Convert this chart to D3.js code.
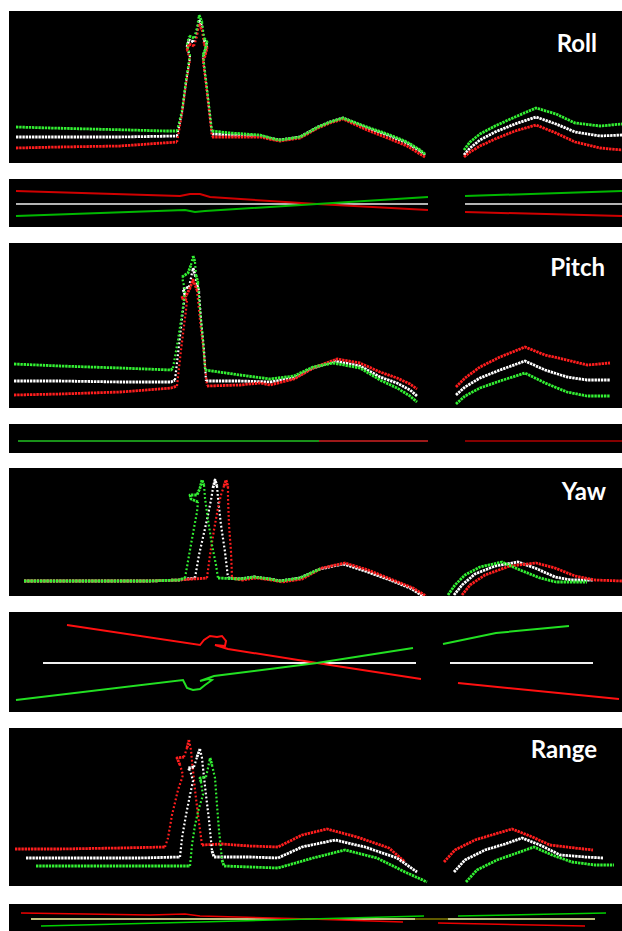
<!DOCTYPE html>
<html><head><meta charset="utf-8">
<script src="https://cdn.jsdelivr.net/npm/d3@7/dist/d3.min.js"></script>
<style>html,body{margin:0;padding:0;background:#fff;}svg{display:block;}</style>
</head><body>
<script>
// ---------- DATA (x: scan position, y: height above panel floor) ----------
// Roll profile
const rollWhiteL = [[7,26],[51,26],[111,26],[168,27],[173,51],[177,81],[181,106],[178,116],[180,123],[185,121],[188,131],[190,143],[193,137],[195,123],[198,118],[196,111],[194,105],[197,81],[200,55],[203,29],[221,28],[251,27],[265,24],[271,23],[291,26],[309,36],[321,41],[334,45],[358,35],[381,27],[398,20],[411,12],[416,8]];
const rollWhiteR = [[455,8],[461,15],[471,23],[486,31],[506,39],[527,46],[547,39],[566,31],[591,27],[613,28]];
const rollRedL = [[7,15],[51,16],[111,17],[168,21],[173,49],[177,79],[181,103],[178,113],[180,119],[185,117],[188,127],[190,139],[193,133],[195,119],[198,115],[196,107],[194,102],[197,78],[200,52],[203,26],[221,26],[251,26],[265,23],[271,22],[291,25],[309,35],[321,40],[334,44],[358,33],[381,24],[398,17],[411,9],[416,6]];
const rollRedR = [[455,6],[461,11],[471,17],[486,24],[506,32],[527,38],[547,30],[566,21],[591,15],[613,13]];
const rollGreenL = [[7,36],[41,35],[81,34],[121,33],[156,32],[168,32],[173,53],[177,83],[181,108],[178,118],[180,127],[185,125],[188,135],[190,148],[193,141],[195,125],[198,121],[196,113],[194,108],[197,83],[200,58],[203,32],[221,30],[251,28],[265,24],[271,23],[291,26],[309,36],[321,41],[334,45],[358,36],[381,28],[398,21],[411,13],[416,9]];
const rollGreenR = [[455,13],[461,21],[471,29],[486,37],[506,46],[527,55],[547,49],[566,40],[591,37],[613,39]];
// Roll top view
const rollTopWhiteL = [[7,23],[419,23]];
const rollTopWhiteR = [[456,23],[613,23]];
const rollTopRedL = [[7,36],[171,31],[181,33],[191,33],[201,30],[308,23],[419,17]];
const rollTopRedR = [[456,15],[613,11]];
const rollTopGreenL = [[7,11],[176,17],[186,15],[196,16],[308,23],[419,30]];
const rollTopGreenR = [[456,31],[613,36]];
// Pitch profile
const pitchWhiteL = [[5,27],[51,27],[111,26],[162,26],[166,28],[170,63],[174,98],[176,113],[174,119],[180,121],[182,130],[184,140],[186,133],[188,123],[190,116],[192,88],[195,58],[197,27],[231,27],[261,26],[285,30],[304,40],[326,47],[351,42],[371,31],[388,25],[401,18],[408,12]];
const pitchWhiteR = [[447,13],[456,21],[471,30],[491,38],[516,47],[536,38],[558,31],[578,28],[601,28]];
const pitchRedL = [[5,13],[51,14],[111,16],[162,20],[168,22],[172,58],[177,98],[178,108],[172,110],[177,112],[181,120],[184,128],[186,123],[188,118],[191,88],[195,53],[198,22],[231,23],[251,25],[261,23],[285,29],[304,40],[328,49],[351,45],[371,36],[388,30],[401,24],[408,19]];
const pitchRedR = [[447,21],[456,30],[471,41],[491,51],[516,61],[536,53],[558,48],[578,43],[601,45]];
const pitchGreenL = [[5,44],[51,42],[111,40],[162,38],[164,40],[169,68],[174,101],[176,118],[173,131],[179,135],[182,143],[184,152],[186,146],[187,133],[189,125],[191,98],[194,68],[196,38],[231,33],[261,29],[285,32],[304,41],[324,45],[351,40],[371,28],[388,20],[401,12],[408,6]];
const pitchGreenR = [[447,4],[456,12],[471,20],[491,27],[516,35],[536,25],[558,16],[578,12],[601,12]];
// Pitch top view
const pitchTopWhite = [[9,12],[419,12]];
const pitchTopGreen = [[9,12],[310,12]];
const pitchTopRedL = [[310,12],[419,12]];
const pitchTopRedR = [[456,12],[613,12]];
// Yaw profile
const yawGroundL = [[15,15],[71,15],[141,15],[170,16]];
const yawGroundR = [[231,17],[245,19],[261,17],[271,15],[291,18],[311,27],[334,32],[356,25],[381,16],[401,8],[414,0]];
const yawRedGroundR = [[233,16],[247,18],[263,16],[273,14],[293,17],[313,28],[336,33],[359,26],[384,16],[404,8],[417,0]];
const yawGreenSpike = [[176,18],[181,46],[185,68],[188,84],[189,94],[182,97],[181,101],[188,101],[191,108],[193,116],[195,111],[196,98],[199,76],[203,51],[207,31],[209,18]];
const yawWhiteSpike = [[186,18],[190,41],[195,63],[199,81],[202,96],[204,108],[206,116],[208,110],[209,98],[212,71],[216,44],[219,18]];
const yawRedSpike = [[198,18],[201,41],[205,66],[209,88],[212,101],[215,110],[217,116],[219,109],[219,98],[220,71],[222,44],[223,18]];
const yawGreenR = [[439,1],[446,11],[456,21],[471,29],[493,34],[511,26],[531,18],[547,14],[578,14]];
const yawWhiteR = [[445,1],[453,11],[466,22],[486,30],[509,34],[526,28],[546,19],[562,16],[584,16]];
const yawRedR = [[453,1],[461,11],[476,21],[501,30],[527,33],[546,28],[566,20],[586,16],[613,15]];
// Yaw top view
const yawTopWhiteL = [[34,49],[407,49]];
const yawTopWhiteR = [[441,49],[584,49]];
const yawTopRedL = [[58,87],[191,67],[195,72],[201,76],[208,75],[213,76],[217,71],[216,66],[206,67],[219,63],[308,49],[412,33]];
const yawTopRedR = [[449,29],[610,13]];
const yawTopGreenL = [[7,12],[174,32],[178,24],[184,22],[191,23],[196,27],[203,32],[199,33],[191,31],[205,36],[308,49],[404,64]];
const yawTopGreenR = [[434,68],[487,79],[560,86]];
// Range profile
const rangeRedL = [[6,37],[51,37],[111,38],[156,39],[159,48],[163,71],[169,96],[174,111],[171,121],[168,128],[175,129],[178,138],[180,146],[182,136],[183,125],[186,96],[189,71],[193,41],[213,42],[241,40],[269,39],[293,51],[318,57],[348,49],[380,38],[396,24]];
const rangeRedR = [[435,24],[446,36],[466,46],[486,52],[503,57],[521,50],[541,41],[566,38],[584,36]];
const rangeWhiteL = [[17,28],[71,28],[131,28],[171,29],[173,48],[177,71],[181,91],[184,105],[181,116],[179,118],[185,119],[188,129],[191,137],[193,128],[194,118],[197,91],[200,66],[203,35],[205,29],[241,29],[269,28],[293,39],[326,46],[356,39],[388,28],[408,14]];
const rangeWhiteR = [[445,14],[456,26],[476,36],[496,42],[513,48],[531,41],[551,31],[576,29],[594,28]];
const rangeGreenL = [[27,20],[81,20],[141,20],[181,20],[183,41],[186,61],[190,78],[194,91],[192,104],[191,108],[197,109],[199,118],[201,128],[203,121],[206,108],[208,81],[210,56],[213,26],[215,20],[241,19],[269,18],[304,28],[336,36],[368,28],[396,14],[418,4]];
const rangeGreenR = [[457,4],[468,16],[488,26],[508,33],[525,39],[543,31],[563,24],[586,21],[605,21]];
// Range top view
const rangeTopYellowL = [[22,12],[406,12]];
const rangeTopYellowGap = [[406,12],[439,12]];
const rangeTopYellowR = [[439,12],[586,12]];
const rangeTopRedL = [[12,18],[141,16],[176,17],[191,15],[301,12],[394,9]];
const rangeTopRedR = [[429,8],[576,5]];
const rangeTopGreenL = [[32,5],[191,9],[301,12],[415,15]];
const rangeTopGreenR = [[449,15],[597,18]];

const labels = ["Roll","Pitch","Yaw","Range"];

// ---------- LAYOUT ----------
const W = 622, H = 931;
const C = {white:"#ffffff", red:"#ff1e1e", green:"#33f033"};
const panels = [
  {top:11,  bottom:163, label:0, lx:597, ly:52, kind:"profile",
   series:[[rollWhiteL,C.white],[rollWhiteR,C.white],[rollRedL,C.red],[rollRedR,C.red],[rollGreenL,C.green],[rollGreenR,C.green]]},
  {top:179, bottom:227, kind:"top", w:2,
   series:[[rollTopWhiteL,"#b4b4b4"],[rollTopWhiteR,"#b4b4b4"],[rollTopRedL,"#d00000"],[rollTopRedR,"#d00000"],[rollTopGreenL,"#00b800"],[rollTopGreenR,"#00b800"]]},
  {top:243, bottom:408, label:1, lx:605, ly:276, kind:"profile",
   series:[[pitchWhiteL,C.white],[pitchWhiteR,C.white],[pitchRedL,C.red],[pitchRedR,C.red],[pitchGreenL,C.green],[pitchGreenR,C.green]]},
  {top:424, bottom:453, kind:"top", w:1.4,
   series:[[pitchTopWhite,"#888"],[pitchTopGreen,"#00a000"],[pitchTopRedL,"#b00000"],[pitchTopRedR,"#b00000"]]},
  {top:468, bottom:596, label:2, lx:606, ly:500, kind:"profile",
   series:[[yawGroundL.concat(yawWhiteSpike, yawGroundR),C.white],[yawWhiteR,C.white],
           [yawGroundL.concat(yawRedSpike, yawRedGroundR),C.red],[yawRedR,C.red],
           [yawGroundL.concat(yawGreenSpike, yawGroundR.slice(0,6)),C.green],[yawGreenR,C.green]]},
  {top:612, bottom:712, kind:"top", w:2,
   series:[[yawTopWhiteL,"#f0f0f0"],[yawTopWhiteR,"#f0f0f0"],[yawTopRedL,"#ff1010"],[yawTopRedR,"#ff1010"],[yawTopGreenL,"#22e022"],[yawTopGreenR,"#22e022"]]},
  {top:728, bottom:886, label:3, lx:597, ly:758, kind:"profile",
   series:[[rangeRedL,C.red],[rangeRedR,C.red],[rangeWhiteL,C.white],[rangeWhiteR,C.white],[rangeGreenL,C.green],[rangeGreenR,C.green]]},
  {top:904, bottom:931, kind:"top", w:1.5,
   series:[[rangeTopYellowL,"#ffffa8"],[rangeTopYellowGap,"#807a00"],[rangeTopYellowR,"#ffffa8"],[rangeTopRedL,"#ee0000"],[rangeTopRedR,"#ee0000"],[rangeTopGreenL,"#00d000"],[rangeTopGreenR,"#00d000"]]}
];

const svg = d3.select("body").append("svg").attr("width", W).attr("height", H);
const x = d3.scaleLinear().domain([0, 613]).range([9, 622]);

// split a profile into runs of steep (sparse scan) and flat (dense scan) segments
function runs(pts) {
  const out = []; let cur = null;
  for (let k = 1; k < pts.length; k++) {
    const a = pts[k - 1], b = pts[k];
    const dy = Math.abs(b[1] - a[1]), dx = Math.abs(b[0] - a[0]);
    const steep = dy > 2.5 * dx && dy > 8;
    if (!cur || cur.steep !== steep) { cur = {steep, pts: [a]}; out.push(cur); }
    cur.pts.push(b);
  }
  return out;
}

panels.forEach((p, i) => {
  const y = d3.scaleLinear().domain([0, p.bottom - p.top]).range([p.bottom, p.top]);
  const g = svg.append("g");
  g.append("clipPath").attr("id", "c" + i).append("rect")
    .attr("x", x(0)).attr("y", p.top).attr("width", x(613) - x(0)).attr("height", p.bottom - p.top);
  g.append("rect").attr("x", x(0)).attr("y", p.top)
    .attr("width", x(613) - x(0)).attr("height", p.bottom - p.top).attr("fill", "#000");
  const line = d3.line().x(d => x(d[0])).y(d => y(d[1]));
  const lg = g.append("g").attr("clip-path", `url(#c${i})`);
  p.series.forEach(([pts, col]) => {
    if (p.kind === "profile") {
      runs(pts).forEach(r => {
        lg.append("path").attr("d", line(r.pts)).attr("fill", "none").attr("stroke", col)
          .attr("stroke-linejoin", "round")
          .attr("stroke-width", r.steep ? 2.2 : 2.8)
          .attr("stroke-dasharray", r.steep ? "1.8,2.2" : "2.4,0.8");
      });
    } else {
      lg.append("path").attr("d", line(pts)).attr("fill", "none")
        .attr("stroke", col).attr("stroke-width", p.w);
    }
  });
  if (p.label !== undefined) {
    g.append("text").attr("x", p.lx).attr("y", p.ly).attr("text-anchor", "end")
      .attr("fill", "#fff").attr("font-family", "Lato, 'Open Sans', sans-serif")
      .attr("font-weight", 700).attr("font-size", 24).text(labels[p.label]);
  }
});
</script>
</body></html>
